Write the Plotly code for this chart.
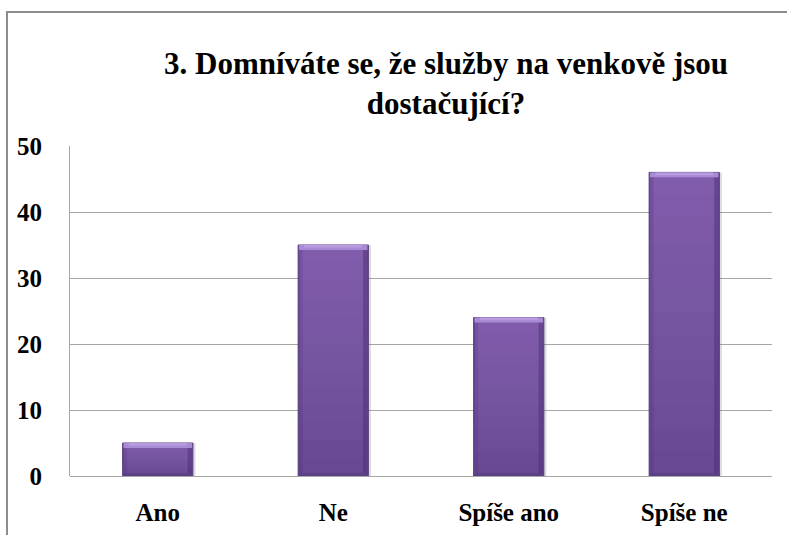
import plotly.graph_objects as go

categories = ["Ano", "Ne", "Spíše ano", "Spíše ne"]
values = [5, 35, 24, 46]
y_ticks = [0, 10, 20, 30, 40, 50]
title_text = "3. Domníváte se, že služby na venkově jsou<br>dostačující?"

FONT = "'Liberation Serif', 'Times New Roman', 'DejaVu Serif', serif"
W, H = 787, 535
L, R, T, B = 70, 15, 146, 59
pw, ph = W - L - R, H - T - B

cap = 0.75   # top bevel height in data units
foot = 0.4   # bottom bevel height in data units
fig = go.Figure()


def bar(y, color, width, base=None, offset=None, line=None):
    fig.add_trace(go.Bar(
        x=categories, y=y, base=base, offset=offset, width=width,
        marker=dict(color=color, line=line or dict(width=0)),
        hoverinfo="skip", showlegend=False,
    ))


# soft shadow on the right
bar(values, "rgba(120,120,120,0.25)", 0.015, offset=0.2)
# body (darker bottom colour)
bar(values, "#674892", 0.4, line=dict(color="#56397e", width=1))
# vertical gradient toward lighter top
steps = [i / 13 for i in range(1, 13)]
for f in steps:
    bar([v * (1 - f) for v in values], "rgba(160,130,210,0.047)", 0.39,
        base=[v * f for v in values])
# edges
bar(values, "rgba(70,45,110,0.45)", 0.025, offset=0.17)
bar(values, "rgba(70,45,110,0.2)", 0.02, offset=-0.195)
# bottom bevel
bar([foot] * len(values), "#5c3f86", 0.39)
# top bevel highlight
bar([cap] * len(values), "#a98bd5", 0.39, base=[v - cap for v in values])
bar([cap * 0.5] * len(values), "#b89ce0", 0.33, base=[v - cap * 0.5 for v in values])

fig.update_layout(
    barmode="overlay",
    width=W, height=H,
    margin=dict(l=L, r=R, t=T, b=B, autoexpand=False),
    paper_bgcolor="white", plot_bgcolor="white",
    font=dict(family=FONT, color="black"),
    xaxis=dict(
        automargin=False,
        showgrid=False, showline=False, zeroline=False, ticks="",
        tickfont=dict(family=FONT, size=25, color="black", weight="bold"),
        ticklabelstandoff=19,
    ),
    yaxis=dict(
        automargin=False,
        range=[0, 50], tickvals=y_ticks, showgrid=True, gridcolor="#a6a6a6", gridwidth=1,
        showline=True, linecolor="#a6a6a6", linewidth=1,
        zeroline=True, zerolinecolor="#a6a6a6", zerolinewidth=1,
        ticks="", tickfont=dict(family=FONT, size=25, color="black", weight="bold"),
        ticklabelstandoff=22,
    ),
    annotations=[dict(
        text=title_text, xref="paper", yref="paper",
        x=(446 - L) / pw, y=(H - B - 84) / ph, xanchor="center", yanchor="middle",
        showarrow=False, align="center",
        font=dict(family=FONT, size=31, color="black", weight="bold"),
    )],
    shapes=[dict(
        type="rect", xref="paper", yref="paper",
        x0=(7 - L) / pw, x1=(W + 20 - L) / pw,
        y0=-(B + 20) / ph, y1=(H - B - 12) / ph,
        line=dict(color="#8c8c8c", width=2), fillcolor="rgba(0,0,0,0)", layer="below",
    )],
)

fig.write_html(
    "out.html",
    config={"displayModeBar": False},
    post_script="document.body.style.margin='0';document.body.style.padding='0';",
)
